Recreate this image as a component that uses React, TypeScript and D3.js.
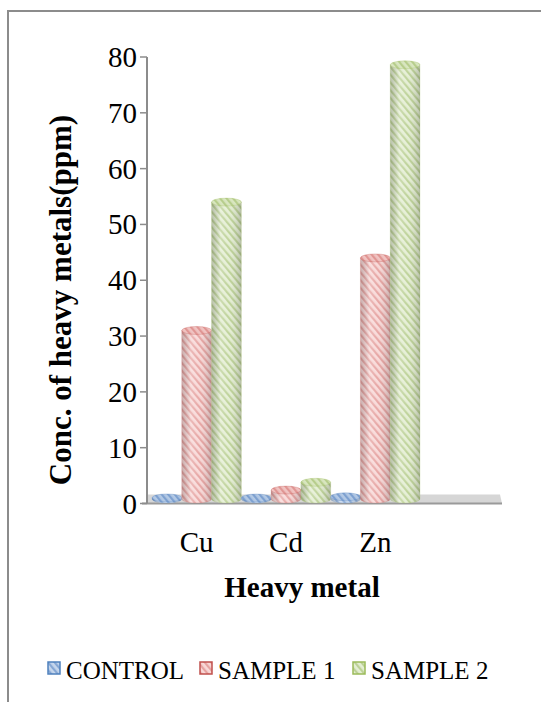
import React from "react";
import * as d3 from "d3";

const categories = ["Cu", "Cd", "Zn"];
const seriesNames = ["CONTROL", "SAMPLE 1", "SAMPLE 2"];
const control = [1.0, 0.9, 1.2];
const sample1 = [31, 2.4, 44];
const sample2 = [54, 3.8, 78.6];
const yTicks = [0, 10, 20, 30, 40, 50, 60, 70, 80];

const seriesValues = [control, sample1, sample2];
const palettes = [
  { bg: "#c5d6ec", stripe: "#86a7d4", edge: "#4f81bd" },
  { bg: "#f8d8d7", stripe: "#e6a3a1", edge: "#c0504d" },
  { bg: "#e4eed3", stripe: "#bcd196", edge: "#9bbb59" },
];

const W = 541;
const H = 702;
const FONT = "'Liberation Serif', 'Times New Roman', serif";

export default function App() {
  const y = d3.scaleLinear().domain([0, 80]).range([503.5, 57]);
  const x = d3.scaleBand<string>().domain(categories).range([152, 420]).padding(0);
  const xi = d3.scaleBand<number>().domain([0, 1, 2]).range([0, x.bandwidth()]).padding(0);
  const w = xi.bandwidth();
  const ry = 4;
  const axisX = 147;

  const bars: { key: string; s: number; x0: number; yt: number; yb: number }[] = [];
  categories.forEach((c, ci) => {
    seriesValues.forEach((vals, si) => {
      const x0 = (x(c) as number) + (xi(si) as number);
      const yb = y(0) - ry - 0.5;
      const yt = Math.min(y(vals[ci]), yb - 1);
      bars.push({ key: c + si, s: si, x0, yt, yb });
    });
  });

  const legendX = [48, 200, 353];

  return (
    <svg
      width={W}
      height={H}
      style={{ position: "absolute", left: 0, top: 0, background: "#fff" }}
      fontFamily={FONT}
    >
      <defs>
        {palettes.map((p, i) => (
          <pattern
            key={i}
            id={"pat" + i}
            width={5}
            height={5}
            patternUnits="userSpaceOnUse"
            patternTransform="rotate(-40)"
          >
            <rect width={5} height={5} fill={p.bg} />
            <rect width={2.2} height={5} fill={p.stripe} />
          </pattern>
        ))}
        <linearGradient id="shade" x1="0" x2="1" y1="0" y2="0">
          <stop offset="0" stopColor="#000" stopOpacity={0.18} />
          <stop offset="0.3" stopColor="#fff" stopOpacity={0.25} />
          <stop offset="0.6" stopColor="#fff" stopOpacity={0.05} />
          <stop offset="1" stopColor="#000" stopOpacity={0.2} />
        </linearGradient>
      </defs>

      {/* outer border */}
      <line x1={7} x2={W} y1={11} y2={11} stroke="#8c8c8c" strokeWidth={2} />
      <line x1={8} x2={8} y1={11} y2={H} stroke="#8c8c8c" strokeWidth={2} />

      {/* floor */}
      <polygon
        points={`${axisX},${y(0) - 9} ${500},${y(0) - 9} ${502},${y(0)} ${axisX},${y(0)}`}
        fill="#d6d6d6"
      />
      <line x1={axisX - 5} x2={502} y1={y(0)} y2={y(0)} stroke="#9a9a9a" strokeWidth={2} />

      {/* y axis */}
      <line x1={axisX} x2={axisX} y1={y(80)} y2={y(0)} stroke="#8c8c8c" strokeWidth={2} />
      {yTicks.map((t) => (
        <g key={t}>
          <line x1={axisX - 7} x2={axisX} y1={y(t)} y2={y(t)} stroke="#8c8c8c" strokeWidth={1.5} />
          <text x={137} y={y(t) + 10} textAnchor="end" fontSize={29} fill="#000">
            {t}
          </text>
        </g>
      ))}

      {/* bars */}
      {bars.map((b) => {
        const p = palettes[b.s];
        const rx = w / 2;
        const cx = b.x0 + rx;
        const body = `M${b.x0},${b.yt} L${b.x0},${b.yb} A${rx},${ry} 0 0 0 ${b.x0 + w},${b.yb} L${b.x0 + w},${b.yt} Z`;
        return (
          <g key={b.key}>
            <path d={body} fill={`url(#pat${b.s})`} />
            <path d={body} fill="url(#shade)" />
            <path d={body} fill="none" stroke={p.edge} strokeOpacity={0.25} strokeWidth={0.8} />
            <ellipse cx={cx} cy={b.yt} rx={rx} ry={ry} fill={`url(#pat${b.s})`} />
            <ellipse cx={cx} cy={b.yt} rx={rx} ry={ry} fill={p.edge} fillOpacity={0.15} stroke={p.edge} strokeOpacity={0.35} strokeWidth={0.8} />
          </g>
        );
      })}

      {/* category labels */}
      {categories.map((c) => (
        <text key={c} x={(x(c) as number) + x.bandwidth() / 2} y={552} textAnchor="middle" fontSize={29} fill="#000">
          {c}
        </text>
      ))}

      {/* axis titles */}
      <text x={302} y={597} textAnchor="middle" fontSize={29} fontWeight="bold" fill="#000">
        Heavy metal
      </text>
      <text
        transform={`translate(71,${300}) rotate(-90)`}
        textAnchor="middle"
        fontSize={31}
        fontWeight="bold"
        fill="#000"
      >
        Conc. of heavy metals(ppm)
      </text>

      {/* legend */}
      {seriesNames.map((n, i) => (
        <g key={n}>
          <rect x={legendX[i]} y={662} width={12} height={12} fill={`url(#pat${i})`} stroke={palettes[i].edge} strokeWidth={1.5} />
          <text x={legendX[i] + 18} y={679} fontSize={25} fill="#000">
            {n}
          </text>
        </g>
      ))}
    </svg>
  );
}
